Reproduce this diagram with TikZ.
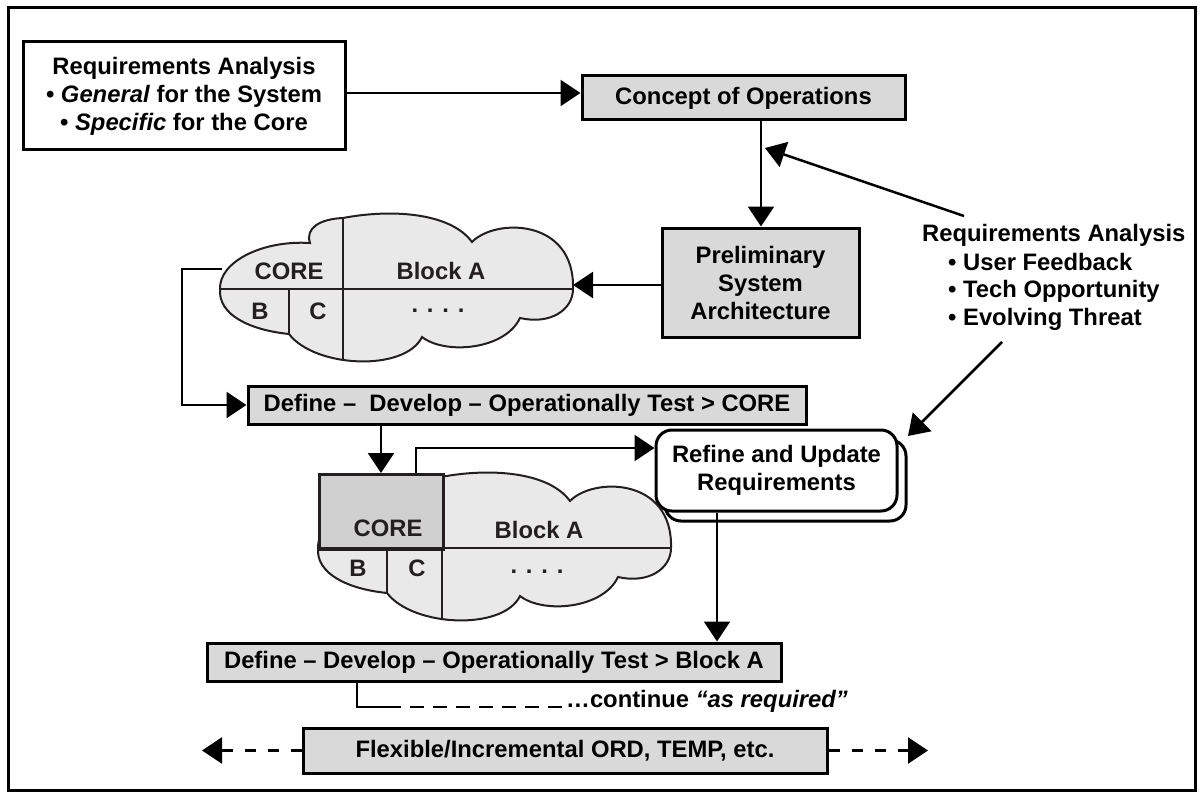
\documentclass[tikz,border=0pt]{standalone}
\usepackage{fontspec}
\setmainfont{Liberation Sans}
\usetikzlibrary{arrows.meta,calc}
\definecolor{boxgray}{RGB}{217,217,217}
\definecolor{cloudgray}{RGB}{233,233,233}
\definecolor{coregray}{RGB}{208,208,208}
\definecolor{ink}{RGB}{35,31,32}
\newcommand{\mycloudpath}{(0,0) .. controls (-1,-27) and (42,-49) .. (90,-46) .. controls (85,-61) and (100,-70) .. (123,-71) .. controls (170,-80) and (230,-77) .. (252,-47) .. controls (275,-71) and (355,-71) .. (353,0) .. controls (353,21) and (330,36) .. (300,29) .. controls (285,61) and (225,66) .. (202,48) .. controls (185,83) and (95,79) .. (69,45) .. controls (30,41) and (-2,26) .. (0,0) -- cycle}
\tikzset{
  txt/.style={font=\bfseries\fontsize{23.8}{28}\selectfont, inner sep=0pt},
  gbox/.style={txt, draw, line width=3pt, fill=boxgray, align=center},
  wbox/.style={txt, draw, line width=3pt, fill=white, align=center},
  ctxt/.style={txt, text=ink},
  arr/.style={line width=2.5pt, -{Triangle[length=20pt,width=26pt]}},
  darr/.style={line width=2.5pt, dash pattern=on 11pt off 12pt, -{Triangle[length=20pt,width=26pt]}},
  cline/.style={draw=ink, line width=2pt},
}
\begin{document}
\begin{tikzpicture}[x=1pt,y=-1pt]
\useasboundingbox (0,0) rectangle (1202,797);
\draw[line width=3pt] (8,8) rectangle (1195,790);

% boxes
\node[wbox, minimum width=322, minimum height=108] (leftbox) at (184,96)
  {Requirements Analysis\\ • \textit{General} for the System\\ • \textit{Specific} for the Core};
\node[gbox, minimum width=323, minimum height=44] (concept) at (743.5,98) {Concept of Operations};
\node[gbox, minimum width=197, minimum height=109] (prelim) at (760.5,282.5) {Preliminary\\System\\Architecture};
\node[gbox, minimum width=558, minimum height=38] (def1) at (527,405) {Define –\ \ Develop – Operationally Test > CORE};
\node[gbox, minimum width=574, minimum height=38] (def2) at (494,662) {Define – Develop – Operationally Test > Block A};
\node[gbox, minimum width=524, minimum height=45] (flex) at (565,750.5) {Flexible/Incremental ORD, TEMP, etc.};
\node[wbox, rounded corners=16pt, minimum width=241, minimum height=81] (refshadow) at (785.5,480.5) {};
\node[wbox, rounded corners=16pt, minimum width=241, minimum height=81] (refine) at (776.5,470.5) {Refine and Update\\Requirements};

% right text
\node[txt, anchor=base west] (rt1) at (922,241) {Requirements Analysis};
\node[txt, anchor=base west] (rt2) at (948,270) {• User Feedback};
\node[txt, anchor=base west] (rt3) at (948,297) {• Tech Opportunity};
\node[txt, anchor=base west] (rt4) at (948,325) {• Evolving Threat};

% cloud 1
\begin{scope}[shift={(220,289)}]
  \fill[cloudgray] \mycloudpath;
  \begin{scope}
    \clip \mycloudpath;
    \draw[cline] (-5,0) -- (360,0);
    \draw[cline] (123,-80) -- (123,90);
    \draw[cline] (69,0) -- (69,60);
  \end{scope}
  \draw[cline] \mycloudpath;
\end{scope}
\node[ctxt] (core1) at (289,271) {CORE};
\node[ctxt] (blka1) at (441,271) {Block A};
\node[ctxt] (b1) at (260,311) {B};
\node[ctxt] (c1) at (318,311) {C};
\node[ctxt] (dots1) at (438,311) {. . . .};

% cloud 2
\begin{scope}[shift={(318,548)}]
  \fill[cloudgray] \mycloudpath;
  \draw[cline] \mycloudpath;
\end{scope}
\node[draw=ink, line width=2.5pt, fill=coregray, minimum width=124, minimum height=75, anchor=north west, inner sep=0pt] (core2box) at (318,473) {};
\begin{scope}[shift={(318,548)}]
  \begin{scope}
    \clip \mycloudpath;
    \draw[cline] (120,0) -- (360,0);
    \draw[cline] (124,0) -- (124,90);
    \draw[cline] (69,0) -- (69,60);
  \end{scope}
  \draw[cline] (0,0) -- (124,0);
\end{scope}
\node[ctxt] (core2) at (388,528) {CORE};
\node[ctxt] (blka2) at (539,530) {Block A};
\node[ctxt] (b2) at (358,568) {B};
\node[ctxt] (c2) at (417,568) {C};
\node[ctxt] (dots2) at (537,572) {. . . .};

% continue text
\node[txt, anchor=base west] (cont) at (566,707) {…continue \textit{“as required”}};

% coordinates
\coordinate (a1) at (0,93);
\coordinate (a2) at (761,0);
\coordinate (ra1) at (964,216);
\coordinate (ra1tip) at (765,148);
\coordinate (c1east) at (573,285);
\coordinate (c1west) at (222,269);
\coordinate (lft) at (182,0);
\coordinate (a6) at (381,0);
\coordinate (a7) at (416,448);
\coordinate (a8) at (717,0);
\coordinate (ra2) at (1002,342);
\coordinate (ra2tip) at (908,436);
\coordinate (a10) at (357,707);
\coordinate (a10b) at (387,707);
\coordinate (a10c) at (562,707);
\coordinate (fl) at (202,750.5);
\coordinate (fr) at (928,750.5);

% connectors
\draw[arr] (leftbox.east |- a1) -- (concept.west |- a1);
\draw[arr] (a2 |- concept.south) -- (a2 |- prelim.north);
\draw[arr] (ra1) -- (ra1tip);
\draw[arr] (prelim.west |- c1east) -- (c1east);
\draw[arr] (c1west) -| (lft |- def1.west) -- (def1.west);
\draw[arr] (a6 |- def1.south) -- (a6 |- core2box.north);
\draw[arr] (a7 |- core2box.north) -- (a7) -- (refine.west |- a7);
\draw[arr] (a8 |- refine.south) -- (a8 |- def2.north);
\draw[arr] (ra2) -- (ra2tip);
\draw[line width=2.5pt] (a10 |- def2.south) -- (a10) -- (a10b);
\draw[line width=2.5pt, dash pattern=on 14pt off 9pt] (a10b) -- (a10c);
\draw[darr] (flex.west) -- (fl);
\draw[darr] (flex.east) -- (fr);
\end{tikzpicture}
\end{document}
